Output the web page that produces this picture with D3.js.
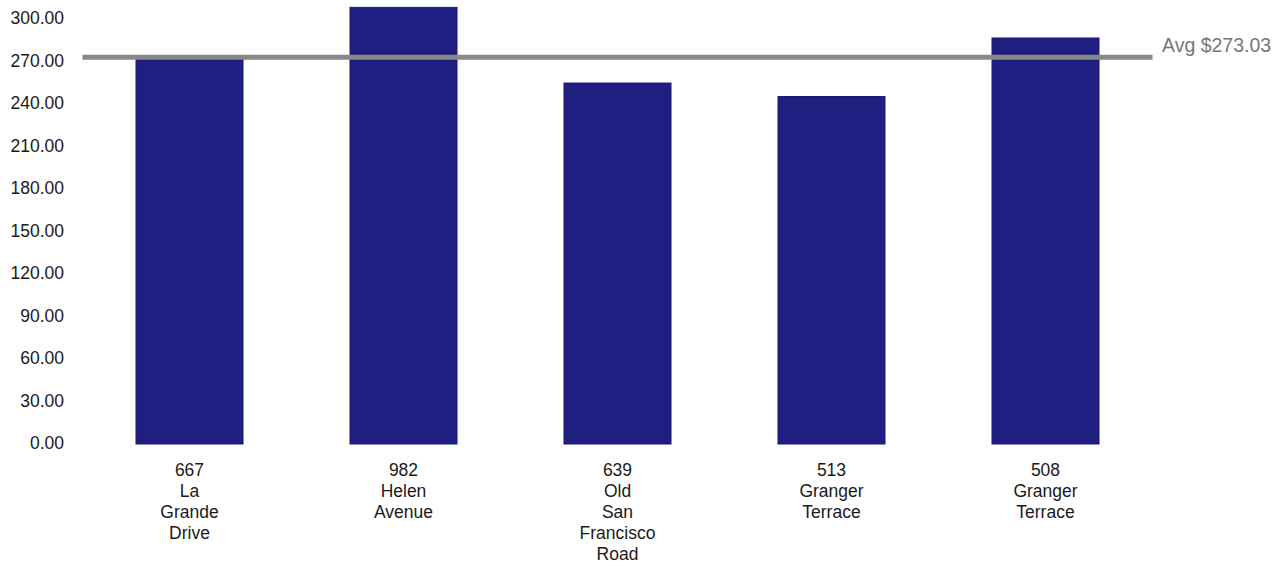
<!DOCTYPE html>
<html lang="en">
<head>
    <meta charset="utf-8">
    <title>Average price by address</title>
    <script src="https://d3js.org/d3.v7.min.js"></script>
    <style>
        body { margin: 0; background: #fff; }
        svg { display: block; font-family: "Liberation Sans", Arial, sans-serif; }
    </style>
</head>
<body>
<div id="container"></div>
<script type="text/javascript">
    // chart data
    var addresses = ["667 La Grande Drive", "982 Helen Avenue", "639 Old San Francisco Road",
                     "513 Granger Terrace", "508 Granger Terrace"];
    var prices = [271.6, 308.2, 254.8, 245.3, 286.6];
    var avgPrice = 273.03;
    var yTicks = [0, 30, 60, 90, 120, 150, 180, 210, 240, 270, 300];

    var width = 1277, height = 568;

    var svg = d3.select("#container")
        .append("svg")
        .attr("width", width)
        .attr("height", height);

    // scales
    var x = d3.scaleBand()
        .domain(addresses)
        .range([82.5, 1152.5])
        .paddingInner(0.5)
        .paddingOuter(0.25);

    var y = d3.scaleLinear()
        .domain([0, 300])
        .range([444, 19]);

    // y axis (labels only)
    var yAxis = svg.append("g")
        .attr("transform", "translate(64,-1)")
        .call(d3.axisLeft(y).tickValues(yTicks).tickFormat(d3.format(".2f")).tickSize(0).tickPadding(0));
    yAxis.select(".domain").remove();
    yAxis.selectAll("text")
        .style("font-size", "17.5px")
        .style("fill", "#1a1a1a")
        .style("font-family", "Liberation Sans, Arial, sans-serif");

    // bars
    svg.append("g").selectAll("rect")
        .data(addresses)
        .enter().append("rect")
        .attr("x", function (d) { return x(d); })
        .attr("width", x.bandwidth())
        .attr("y", function (d, i) { return y(prices[i]); })
        .attr("height", function (d, i) { return y(0) - y(prices[i]); })
        .style("fill", "#1f1f82")
        .style("stroke", "#191970")
        .style("stroke-width", 1);

    // x labels, one word per line
    var xLabels = svg.append("g").selectAll("text")
        .data(addresses)
        .enter().append("text")
        .attr("x", function (d) { return x(d) + x.bandwidth() / 2; })
        .attr("y", 476)
        .attr("text-anchor", "middle")
        .style("font-size", "17.5px")
        .style("fill", "#1a1a1a");

    xLabels.selectAll("tspan")
        .data(function (d) { return d.split(" "); })
        .enter().append("tspan")
        .attr("x", function () { return d3.select(this.parentNode).attr("x"); })
        .attr("dy", function (d, i) { return i === 0 ? 0 : 21; })
        .text(function (d) { return d; });

    // average line
    svg.append("line")
        .attr("x1", x.range()[0])
        .attr("x2", x.range()[1])
        .attr("y1", y(avgPrice))
        .attr("y2", y(avgPrice))
        .style("stroke", "#888888")
        .style("stroke-width", 5);

    svg.append("text")
        .attr("x", 1162)
        .attr("y", y(avgPrice) - 5)
        .style("font-size", "19.5px")
        .style("fill", "#777777")
        .text("Avg $" + avgPrice.toFixed(2));
</script>
</body>
</html>
